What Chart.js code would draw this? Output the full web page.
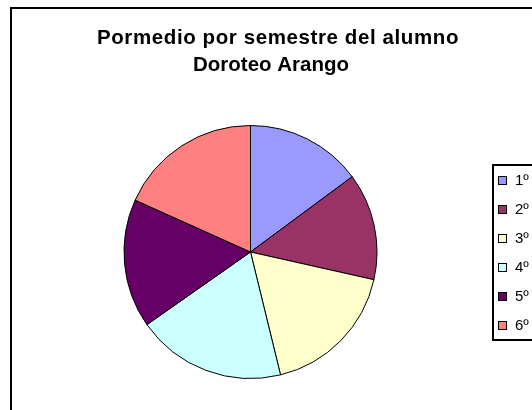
<!DOCTYPE html>
<html>
<head>
<meta charset="utf-8">
<script src="https://cdn.jsdelivr.net/npm/chart.js@4/dist/chart.umd.min.js"></script>
<style>
  html, body { margin: 0; padding: 0; background: #fff; }
  #wrap { width: 532px; height: 410px; }
</style>
</head>
<body>
<div id="wrap"><canvas id="grafico" width="532" height="410"></canvas></div>
<script>
// datos
const semestres = ['1º', '2º', '3º', '4º', '5º', '6º'];
const promedios = [7.4, 6.8, 8.8, 9.5, 8.2, 9.1];
const colores = ['#9999FF', '#993366', '#FFFFCC', '#CCFFFF', '#660066', '#FF8080'];
const tituloLineas = ['Pormedio por semestre del alumno', 'Doroteo Arango'];

// marco del area, titulo y leyenda al estilo Excel
const marcoExcel = {
    id: 'marcoExcel',
    beforeDraw(chart) {
        const ctx = chart.ctx;
        ctx.save();
        ctx.fillStyle = '#fff';
        ctx.fillRect(0, 0, chart.width, chart.height);
        ctx.strokeStyle = '#000';
        ctx.lineWidth = 2;
        ctx.strokeRect(11, 8, 700, 600);
        ctx.restore();
    },
    afterDraw(chart) {
        const ctx = chart.ctx;
        ctx.save();

        ctx.fillStyle = '#000';
        ctx.font = 'bold 20.5px "Liberation Sans", Arial, sans-serif';
        ctx.textAlign = 'center';
        ctx.textBaseline = 'alphabetic';
        const espaciado = ['0.6px', '0px'];
        tituloLineas.forEach((linea, i) => {
            ctx.letterSpacing = espaciado[i];
            ctx.fillText(linea, 278 - i * 7, 44 + i * 27);
        });
        ctx.letterSpacing = '0px';

        // caja de la leyenda (se sale por la derecha)
        ctx.strokeStyle = '#000';
        ctx.lineWidth = 2;
        ctx.strokeRect(493, 165, 100, 175);

        const items = chart.options.plugins.legend.labels.generateLabels(chart);
        ctx.font = '15px "Liberation Sans", Arial, sans-serif';
        ctx.textAlign = 'left';
        ctx.textBaseline = 'middle';
        items.forEach((item, i) => {
            const cy = 180 + i * 29;
            ctx.fillStyle = item.fillStyle;
            ctx.fillRect(498, cy - 4, 9, 9);
            ctx.lineWidth = 1;
            ctx.strokeRect(498.5, cy - 3.5, 8, 8);
            ctx.fillStyle = '#000';
            ctx.fillText(item.text, 515, cy + 1);
        });
        ctx.restore();
    }
};

new Chart(document.getElementById('grafico'), {
    type: 'pie',
    data: {
        labels: semestres,
        datasets: [{
            data: promedios,
            backgroundColor: colores,
            borderColor: '#000',
            borderWidth: 1
        }]
    },
    options: {
        responsive: false,
        animation: false,
        layout: { padding: { top: 125, bottom: 31, left: 0, right: 31 } },
        plugins: {
            legend: { display: false },
            title: { display: false },
            tooltip: { enabled: false }
        }
    },
    plugins: [marcoExcel]
});
</script>
</body>
</html>
